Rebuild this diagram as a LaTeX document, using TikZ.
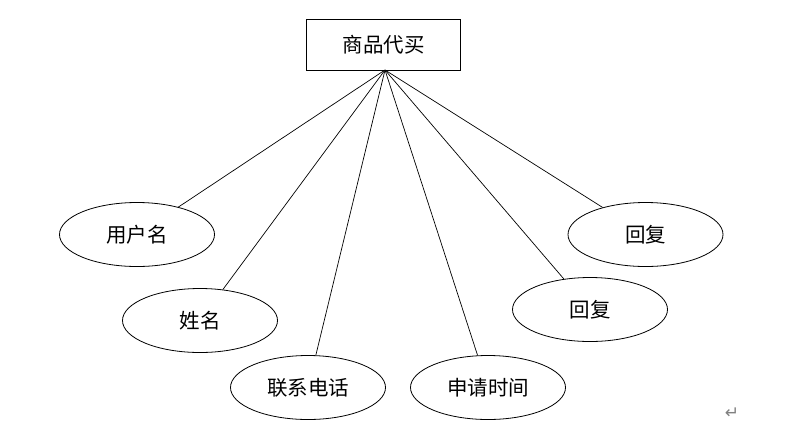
\documentclass[tikz,border=0pt]{standalone}
\usepackage{fontspec}
\newfontfamily\cjk{Noto Sans CJK SC}
\newfontfamily\dejavu{DejaVu Sans}
\usetikzlibrary{shapes.geometric}
\begin{document}
\begin{tikzpicture}[x=1pt,y=-1pt,
  attr/.style={draw,ellipse,line width=0.8pt,minimum width=155pt,minimum height=64pt,inner sep=0pt,font=\cjk\fontsize{20.5}{20.5}\selectfont},
  ent/.style={draw,rectangle,line width=0.8pt,minimum width=154pt,minimum height=51pt,inner sep=0pt,font=\cjk\fontsize{20.5}{20.5}\selectfont},
  conn/.style={line width=0.7pt}]
\useasboundingbox (0,0) rectangle (785,432);
\node[ent] (e) at (383.5,44.5) {商品代买};
\coordinate (hub) at (385,70);
\node[attr] (a1) at (137,234.5) {用户名};
\node[attr] (a2) at (200,320.5) {姓名};
\node[attr] (a3) at (308,387.5) {联系电话};
\node[attr] (a4) at (488,387.5) {申请时间};
\node[attr] (a5) at (590,309.5) {回复};
\node[attr] (a6) at (645.5,234.5) {回复};
\foreach \t in {a1,a2,a3,a4,a5,a6} \draw[conn] (hub) -- (\t);
\node[text=gray,font=\dejavu\fontsize{17}{17}\selectfont] (ret) at (732,413) {↵};
\end{tikzpicture}
\end{document}
